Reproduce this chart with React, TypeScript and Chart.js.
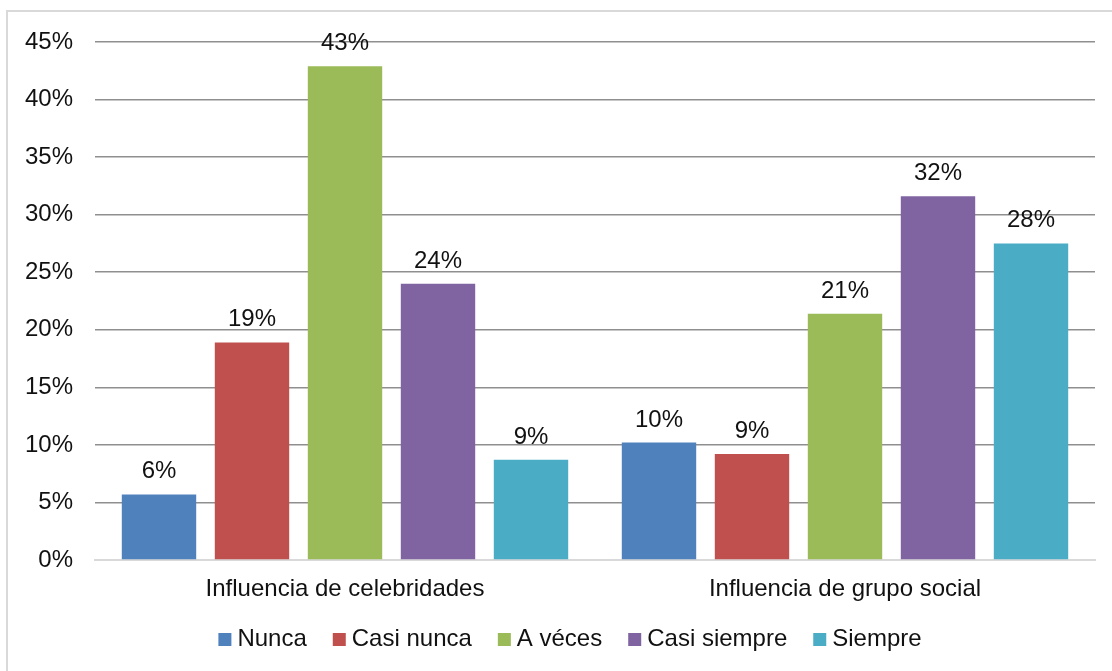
import React, { useEffect, useRef } from "react";
import { Chart, registerables } from "chart.js";

Chart.register(...registerables);

const categories = ["Influencia de celebridades", "Influencia de grupo social"];
const seriesNames = ["Nunca", "Casi nunca", "A véces", "Casi siempre", "Siempre"];
const nunca = [5.7, 10.2];
const casiNunca = [18.9, 9.2];
const aVeces = [42.9, 21.4];
const casiSiempre = [24.0, 31.6];
const siempre = [8.7, 27.5];
const seriesColors = ["#4F81BD", "#C0504D", "#9BBB59", "#8064A2", "#4BACC6"];
const yTicks = [0, 5, 10, 15, 20, 25, 30, 35, 40, 45];

const FONT = "'Liberation Sans', Arial, sans-serif";
const TEXT = "#111111";

const labelPlugin = {
  id: "barLabels",
  afterDatasetsDraw(chart: any) {
    const ctx = chart.ctx;
    ctx.save();
    ctx.font = `24px ${FONT}`;
    ctx.fillStyle = TEXT;
    ctx.textAlign = "center";
    ctx.textBaseline = "alphabetic";
    chart.data.datasets.forEach((ds: any, i: number) => {
      const meta = chart.getDatasetMeta(i);
      meta.data.forEach((bar: any, j: number) => {
        const v = ds.data[j];
        ctx.fillText(Math.round(v) + "%", bar.x, bar.y - 16);
      });
    });
    ctx.restore();
  },
};

const legendPlugin = {
  id: "customLegend",
  afterDraw(chart: any) {
    const ctx = chart.ctx;
    ctx.save();
    ctx.font = `24px ${FONT}`;
    ctx.textBaseline = "middle";
    ctx.textAlign = "left";
    const box = 13;
    const gap = 6;
    const spacing = 26;
    const items = chart.data.datasets.map((ds: any) => ({
      label: ds.label,
      color: ds.backgroundColor,
      w: ctx.measureText(ds.label).width,
    }));
    const total =
      items.reduce((s: number, it: any) => s + box + gap + it.w, 0) + spacing * (items.length - 1);
    let x = 570 - total / 2;
    const cy = 639.5;
    items.forEach((it: any) => {
      ctx.fillStyle = it.color;
      ctx.fillRect(x, cy - box / 2, box, box);
      ctx.fillStyle = TEXT;
      ctx.fillText(it.label, x + box + gap, cy);
      x += box + gap + it.w + spacing;
    });
    ctx.restore();
  },
};

export default function App() {
  const ref = useRef<HTMLCanvasElement>(null);
  useEffect(() => {
    const values = [nunca, casiNunca, aVeces, casiSiempre, siempre];
    const chart = new Chart(ref.current!, {
      type: "bar",
      data: {
        labels: categories,
        datasets: seriesNames.map((n, i) => ({
          label: n,
          data: values[i],
          backgroundColor: seriesColors[i],
          barPercentage: 0.8,
          categoryPercentage: 0.93,
        })),
      },
      options: {
        responsive: false,
        animation: false,
        layout: { padding: { left: 0, right: 17, top: 42, bottom: 63 } },
        plugins: {
          legend: { display: false },
          tooltip: { enabled: false },
        },
        scales: {
          x: {
            grid: { display: false, drawTicks: false },
            border: { color: "#d9d9d9", width: 2 },
            ticks: { font: { family: FONT, size: 24 }, color: TEXT, padding: 15 },
            afterFit: (s: any) => { s.height = 48; },
          },
          y: {
            min: 0,
            max: 45,
            afterBuildTicks: (s: any) => { s.ticks = yTicks.map((v) => ({ value: v })); },
            grid: { color: "#8f8f8f", lineWidth: 1.5, drawTicks: false },
            border: { display: false },
            ticks: {
              font: { family: FONT, size: 24 },
              color: TEXT,
              padding: 22,
              callback: (v: any) => v + "%",
            },
            afterFit: (s: any) => { s.width = 95; },
          },
        },
      },
      plugins: [labelPlugin, legendPlugin],
    });
    return () => chart.destroy();
  }, []);
  return (
    <div style={{ position: "fixed", left: 0, top: 0, width: 1112, height: 671, background: "#fff" }}>
      <div style={{ position: "absolute", left: 6, top: 10, width: 1110, height: 665, border: "2px solid #d9d9d9", boxSizing: "border-box" }} />
      <canvas ref={ref} width={1112} height={671} style={{ position: "absolute", left: 0, top: 0 }} />
    </div>
  );
}
